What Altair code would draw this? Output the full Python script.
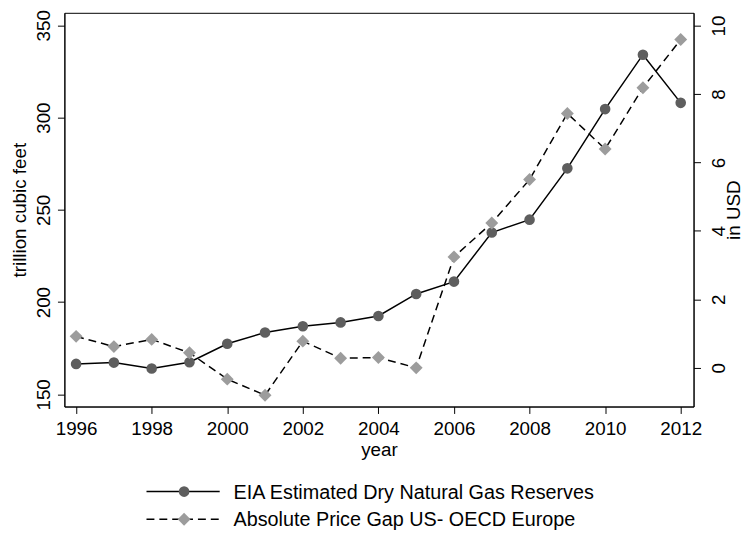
import altair as alt
import pandas as pd

years = list(range(1996, 2013))
reserves = [166.5, 167.2, 164.0, 167.4, 177.4, 183.5, 186.9, 189.0, 192.5,
            204.4, 211.1, 237.7, 244.7, 272.5, 304.6, 334.1, 308.0]
price_gap = [0.92, 0.62, 0.83, 0.44, -0.33, -0.80, 0.78, 0.28, 0.30,
             0.00, 3.24, 4.23, 5.50, 7.43, 6.39, 8.18, 9.59]
series_names = ["EIA Estimated Dry Natural Gas Reserves",
                "Absolute Price Gap US- OECD Europe"]
x_ticks = list(range(1996, 2013, 2))
left_ticks = [150, 200, 250, 300, 350]
right_ticks = [0, 2, 4, 6, 8, 10]

df = pd.DataFrame({"year": years, "reserves": reserves, "gap": price_gap})

FONT = "Liberation Sans"
DARK = "#5e5e5e"
LIGHT = "#9c9c9c"
DASH = [8, 5]
W, H = 636, 398

x_enc = alt.X(
    "year:Q",
    scale=alt.Scale(domain=[1995.69, 2012.34], nice=False, zero=False),
    axis=alt.Axis(values=x_ticks, format="d", title="year", labelPadding=6,
                  titlePadding=3),
)

y_left = alt.Y(
    "reserves:Q",
    scale=alt.Scale(domain=[143.4, 356.8], nice=False, zero=False),
    axis=alt.Axis(orient="left", values=left_ticks, title="trillion cubic feet",
                  labelAngle=270, labelAlign="center", labelBaseline="bottom",
                  labelPadding=4, titleAngle=270, titleX=-45, titleY=H / 2,
                  titleAlign="center", titleBaseline="middle"),
)
y_right = alt.Y(
    "gap:Q",
    scale=alt.Scale(domain=[-1.13, 10.37], nice=False, zero=False),
    axis=alt.Axis(orient="right", values=right_ticks, title="in USD",
                  labelAngle=270, labelAlign="center", labelBaseline="top",
                  labelPadding=9, titleAngle=270, titleX=40, titleY=H / 2,
                  titleAlign="center", titleBaseline="middle"),
)

base = alt.Chart(df)
line_res = base.mark_line(color="black", strokeWidth=1.5).encode(x=x_enc, y=y_left)
pt_res = base.mark_point(shape="circle", filled=True, opacity=1, color=DARK, size=115).encode(x=x_enc, y=y_left)
line_gap = base.mark_line(color="black", strokeWidth=1.5, strokeDash=DASH).encode(x=x_enc, y=y_right)
pt_gap = base.mark_point(shape="diamond", filled=True, opacity=1, color=LIGHT, size=170).encode(x=x_enc, y=y_right)

left = alt.layer(line_res, pt_res)
right = alt.layer(line_gap, pt_gap)

# legend (layout only)
legend_layers = []
row_y = [484, 512]
shapes = ["circle", "diamond"]
colors = [DARK, LIGHT]
sizes = [115, 170]
for i, name in enumerate(series_names):
    ldf = pd.DataFrame({"label": [name]})
    lc = alt.Chart(ldf)
    rule_kwargs = dict(color="black", strokeWidth=1.5)
    if i == 1:
        rule_kwargs["strokeDash"] = DASH
    legend_layers.append(
        lc.mark_rule(**rule_kwargs).encode(
            x=alt.value(83), x2=alt.value(157), y=alt.value(row_y[i]))
    )
    legend_layers.append(
        lc.mark_point(shape=shapes[i], filled=True, opacity=1, color=colors[i], size=sizes[i]).encode(
            x=alt.value(121), y=alt.value(row_y[i]))
    )
    legend_layers.append(
        lc.mark_text(align="left", baseline="middle", font=FONT, fontSize=20, color="black").encode(
            x=alt.value(171), y=alt.value(row_y[i] + 1), text="label:N")
    )

chart = alt.layer(left, right, *legend_layers).resolve_scale(y="independent").properties(
    width=W, height=H,
    autosize=alt.AutoSizeParams(type="none"),
    padding={"left": 57, "top": 2, "right": 52, "bottom": 126},
).configure_view(
    stroke="black", strokeWidth=1
).configure_axis(
    grid=False, labelFont=FONT, titleFont=FONT, labelFontSize=19, titleFontSize=19,
    titleFontWeight="normal", labelColor="black", titleColor="black",
    domainColor="black", tickColor="black", tickSize=7, domainWidth=1, tickWidth=1,
)

chart.save("out.html", embed_options={"renderer": "svg", "actions": False})
